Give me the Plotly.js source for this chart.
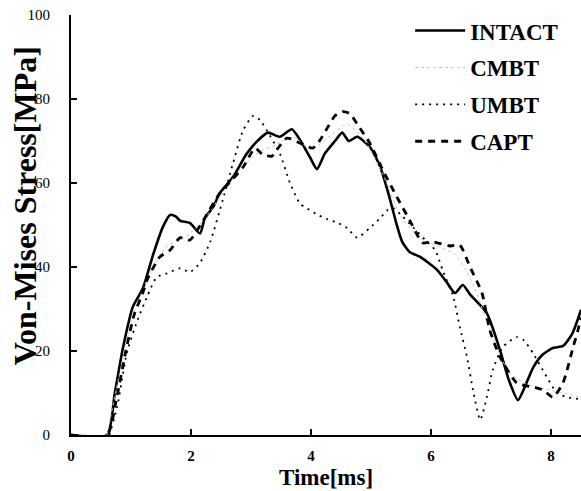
<!DOCTYPE html>
<html>
<head>
<meta charset="utf-8">
<script src="https://cdn.plot.ly/plotly-3.0.1.min.js"></script>
<style>html,body{margin:0;padding:0;background:#fff;}#chart{width:581px;height:491px;}</style>
</head>
<body>
<div id="chart"></div>
<script>
// Time [ms] and Von-Mises stress [MPa]
var intactT = [0, 0.6, 0.73, 0.87, 1.03, 1.2, 1.37, 1.53, 1.65, 1.75, 1.82, 1.98, 2.15, 2.23, 2.37, 2.48, 2.7, 2.93, 3.12, 3.28, 3.48, 3.68, 3.82, 3.98, 4.1, 4.23, 4.4, 4.52, 4.63, 4.77, 4.98, 5.15, 5.3, 5.43, 5.52, 5.65, 5.82, 6.1, 6.27, 6.4, 6.53, 6.65, 6.93, 7.15, 7.3, 7.45, 7.55, 7.7, 7.85, 8.03, 8.2, 8.35, 8.5];
var intactS = [0, 0, 10, 21, 30.5, 35, 43, 49.5, 52.4, 52, 51, 50.5, 48, 51.6, 54.3, 57.6, 61.4, 67, 70.2, 72, 71, 72.8, 70.2, 66.2, 63.3, 67, 70, 72, 70, 71, 68.6, 64, 57, 50, 46, 43.5, 42.4, 39.3, 36.2, 33.8, 35.7, 33.5, 29, 20.2, 13, 8.3, 11, 16, 19, 20.7, 21.2, 24, 29.8];

var cmbtT = [0.6, 0.8, 1.0, 1.3, 1.6, 1.9, 2.2, 2.5, 2.8, 3.1, 3.4, 3.7, 4.0, 4.3, 4.6, 4.9, 5.2, 5.5, 5.8, 6.1, 6.4, 6.7, 7.0, 7.3, 7.6, 7.9, 8.2, 8.5];
var cmbtS = [0, 14, 27, 38, 45, 47, 51, 57, 63, 67, 69, 71, 68, 71, 74, 70, 62, 52, 47, 45, 43, 36, 24, 15, 12, 11, 10, 9];

var umbtT = [0.64, 0.77, 0.93, 1.1, 1.27, 1.43, 1.6, 1.82, 1.98, 2.15, 2.32, 2.53, 2.7, 2.87, 3.04, 3.15, 3.26, 3.48, 3.65, 3.82, 3.93, 4.1, 4.27, 4.45, 4.6, 4.77, 4.98, 5.15, 5.28, 5.37, 5.53, 5.7, 5.9, 6.07, 6.2, 6.37, 6.48, 6.6, 6.7, 6.82, 6.93, 7.03, 7.2, 7.43, 7.55, 7.7, 7.93, 8.1, 8.27, 8.5];
var umbtS = [0, 6.7, 19.5, 27, 33, 37.6, 38.5, 39.7, 38.8, 41, 46, 56, 64.7, 72.6, 76, 75, 72.6, 67, 60, 55, 54, 52.5, 51.4, 50.5, 49.3, 47, 49.3, 51.6, 53.6, 54, 52, 49.5, 46.5, 44, 39, 33, 25.7, 18.6, 10.7, 3.6, 9, 15.5, 21, 23.3, 22.5, 19.5, 13.8, 10, 9, 8.5];

var captT = [0, 0.6, 0.75, 0.9, 1.05, 1.2, 1.27, 1.48, 1.65, 1.82, 1.98, 2.2, 2.48, 2.7, 2.87, 3.07, 3.2, 3.35, 3.45, 3.6, 3.82, 4.03, 4.15, 4.28, 4.4, 4.53, 4.65, 4.77, 4.98, 5.2, 5.43, 5.65, 5.82, 5.87, 6.03, 6.32, 6.48, 6.65, 6.85, 6.98, 7.15, 7.43, 7.7, 7.87, 8.03, 8.2, 8.37, 8.45, 8.5];
var captS = [0, 0, 8, 19, 28.5, 34, 37, 42.4, 44, 47, 46.4, 51, 57.6, 61, 63.8, 68.3, 66.7, 66.4, 68.3, 70.7, 69.5, 68.3, 70.2, 73.3, 76, 77, 76.5, 74, 69.5, 63, 56.7, 51, 46.4, 45.7, 46, 45, 45.2, 40, 33.8, 25, 18.6, 12.4, 11.4, 10.7, 9, 12.4, 21, 25, 28];

var seriesNames = ['INTACT', 'CMBT', 'UMBT', 'CAPT'];
var xTicks = [0, 2, 4, 6, 8];
var yTicks = [0, 20, 40, 60, 80, 100];

var serif = 'Liberation Serif, Times New Roman, serif';

var traces = [
  {x: intactT, y: intactS, name: seriesNames[0], legendgroup: 'a', mode: 'lines',
   line: {color: '#000', width: 2.6, dash: 'solid', shape: 'spline', smoothing: 0.6}},
  {x: cmbtT, y: cmbtS, name: seriesNames[1], legendgroup: 'b', mode: 'lines',
   line: {color: '#c4c4c4', width: 1, dash: 'dot', shape: 'spline', smoothing: 0.6}},
  {x: umbtT, y: umbtS, name: seriesNames[2], legendgroup: 'c', mode: 'lines',
   line: {color: '#000', width: 1.8, dash: '2px,5px', shape: 'spline', smoothing: 0.6}},
  {x: captT, y: captS, name: seriesNames[3], legendgroup: 'd', mode: 'lines',
   line: {color: '#000', width: 2.8, dash: '7px,6px', shape: 'spline', smoothing: 0.6}}
];

var layout = {
  width: 581, height: 491,
  margin: {l: 71, r: 0, t: 15, b: 56},
  paper_bgcolor: '#fff', plot_bgcolor: '#fff',
  showlegend: true,
  legend: {x: 0.665, xanchor: 'left', y: 1.014, yanchor: 'top', bgcolor: 'rgba(0,0,0,0)',
           borderwidth: 0, tracegroupgap: 4, itemwidth: 50,
           font: {family: serif, size: 23, color: '#000', weight: 'bold'}},
  xaxis: {range: [0, 8.5], tickvals: xTicks, ticktext: xTicks.map(String),
          ticks: 'inside', ticklen: 6, tickwidth: 2, tickcolor: '#000',
          showline: true, linewidth: 2, linecolor: '#000', showgrid: false, zeroline: false,
          ticklabelstandoff: 6,
          tickfont: {family: serif, size: 15, color: '#000', weight: 'bold'}},
  yaxis: {range: [0, 100], tickvals: yTicks, ticktext: yTicks.map(String),
          ticks: 'inside', ticklen: 6, tickwidth: 2, tickcolor: '#000',
          showline: true, linewidth: 2, linecolor: '#000', showgrid: false, zeroline: false,
          ticklabelstandoff: 16,
          tickfont: {family: serif, size: 15, color: '#000'}},
  annotations: [
    {text: 'Time[ms]', xref: 'paper', yref: 'paper', x: 0.5, y: -0.1333, xanchor: 'center', yanchor: 'bottom',
     showarrow: false, borderpad: 0, font: {family: serif, size: 23, color: '#000', weight: 'bold'}},
    {text: 'Von-Mises Stress[MPa]', xref: 'paper', yref: 'paper', x: -0.09, y: 0.545, xanchor: 'center', yanchor: 'middle',
     textangle: -90, showarrow: false, font: {family: serif, size: 32, color: '#000', weight: 'bold'}}
  ]
};

Plotly.newPlot('chart', traces, layout, {displayModeBar: false, staticPlot: true});
</script>
</body>
</html>
